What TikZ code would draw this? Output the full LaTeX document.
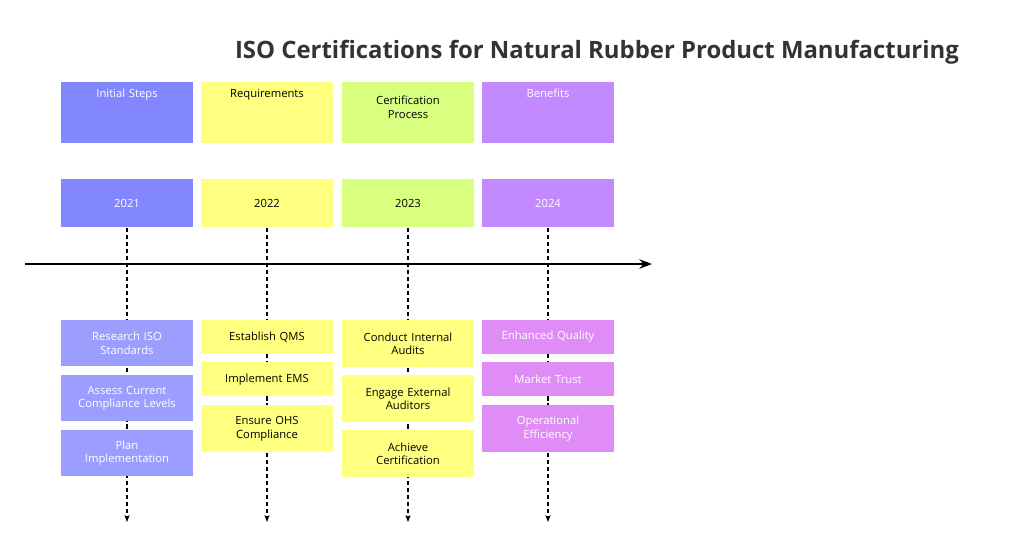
\documentclass[tikz,border=0pt]{standalone}
\usepackage{fontspec}
\setmainfont{Open Sans}
\usetikzlibrary{positioning,arrows.meta,backgrounds}
\definecolor{stepblue}{HTML}{8387FF}
\definecolor{itemblue}{HTML}{9C9EFF}
\definecolor{reqyellow}{HTML}{FFFF80}
\definecolor{procgreen}{HTML}{D9FF80}
\definecolor{benpurple}{HTML}{C389FF}
\definecolor{itempurple}{HTML}{E08CF7}
\tikzset{
    box/.style={rectangle, minimum width=3.3cm, inner sep=0pt, text width=3cm, align=center, font=\fontsize{8}{9.5}\selectfont},
    head/.style={box, anchor=north, minimum height=1.52cm, text depth=0.95cm},
    year/.style={box, anchor=north, minimum height=1.2cm},
    item/.style={box, anchor=north},
    light/.style={text=white},
    flow/.style={densely dashed, thick, -{Stealth[length=5pt]}}
}
\begin{document}
\begin{tikzpicture}[x=0.025cm, y=-0.025cm]
    \useasboundingbox (0,0) rectangle (1024,555);

    % Title
    \node[font=\bfseries\fontsize{17}{20}\selectfont, text=black!80] (title) at (597,52) {ISO Certifications for Natural Rubber Product Manufacturing};

    % Headers
    \node[head, fill=stepblue, light] (h1) at (127,82) {Initial Steps};
    \node[head, fill=reqyellow] (h2) at (267,82) {Requirements};
    \node[head, fill=procgreen, text depth=0.6cm] (h3) at (408,82) {Certification\\Process};
    \node[head, fill=benpurple, light] (h4) at (548,82) {Benefits};

    % Years
    \node[year, fill=stepblue, light] (y1) at (127,179) {2021};
    \node[year, fill=reqyellow] (y2) at (267,179) {2022};
    \node[year, fill=procgreen] (y3) at (408,179) {2023};
    \node[year, fill=benpurple, light] (y4) at (548,179) {2024};

    % Timeline axis
    \coordinate (axl) at (25,264);
    \coordinate (axr) at (652,264);
    \draw[very thick, -{Stealth[length=9pt]}] (axl) -- (axr);

    % Initial steps
    \node[item, fill=itemblue, light, minimum height=1.15cm] (s1) at (127,320) {Research ISO\\Standards};
    \node[item, fill=itemblue, light, minimum height=1.15cm] (s2) at (127,375) {Assess Current\\Compliance Levels};
    \node[item, fill=itemblue, light, minimum height=1.15cm] (s3) at (127,430) {Plan\\Implementation};

    % Requirements
    \node[item, fill=reqyellow, minimum height=0.83cm] (r1) at (267,320) {Establish QMS};
    \node[item, fill=reqyellow, minimum height=0.85cm] (r2) at (267,362) {Implement EMS};
    \node[item, fill=reqyellow, minimum height=1.17cm] (r3) at (267,405) {Ensure OHS\\Compliance};

    % Certification process
    \node[item, fill=reqyellow, minimum height=1.17cm] (p1) at (408,320) {Conduct Internal\\Audits};
    \node[item, fill=reqyellow, minimum height=1.17cm] (p2) at (408,375) {Engage External\\Auditors};
    \node[item, fill=reqyellow, minimum height=1.17cm] (p3) at (408,430) {Achieve\\Certification};

    % Benefits
    \node[item, fill=itempurple, light, minimum height=0.83cm] (b1) at (548,320) {Enhanced Quality};
    \node[item, fill=itempurple, light, minimum height=0.85cm] (b2) at (548,362) {Market Trust};
    \node[item, fill=itempurple, light, minimum height=1.17cm] (b3) at (548,405) {Operational\\Efficiency};

    % Dashed flows
    \coordinate (e1) at (127,522);
    \coordinate (e2) at (267,522);
    \coordinate (e3) at (408,522);
    \coordinate (e4) at (548,522);
    \begin{scope}[on background layer]
        \draw[flow] (y1.south) -- (e1);
        \draw[flow] (y2.south) -- (e2);
        \draw[flow] (y3.south) -- (e3);
        \draw[flow] (y4.south) -- (e4);
    \end{scope}
\end{tikzpicture}
\end{document}
